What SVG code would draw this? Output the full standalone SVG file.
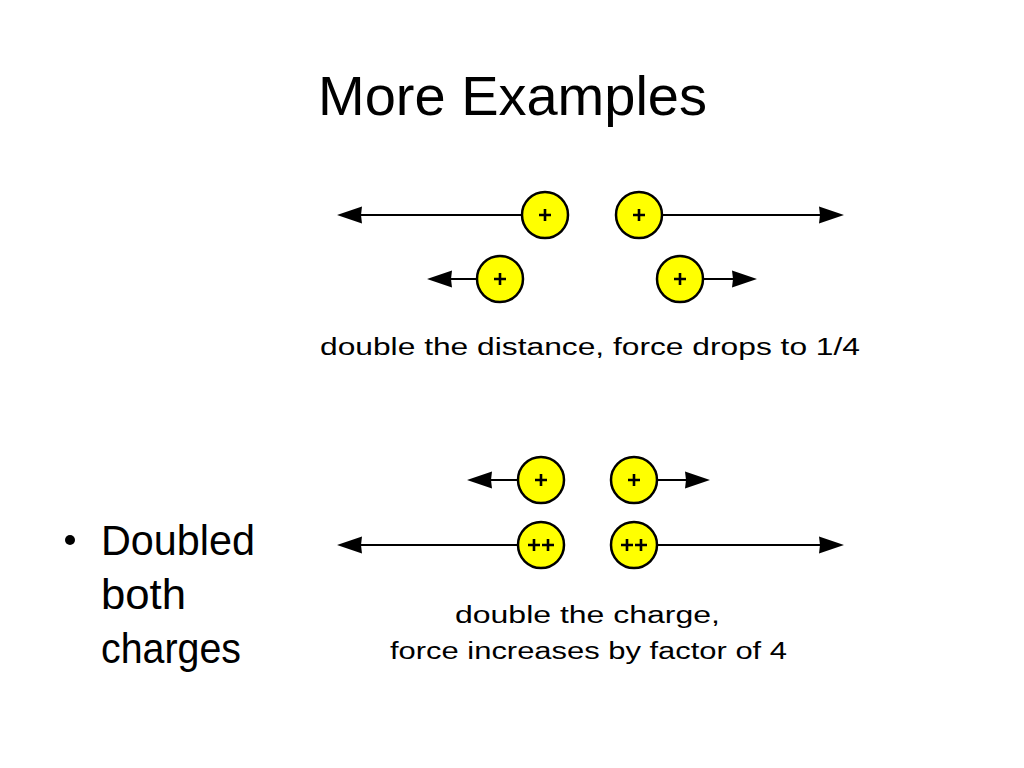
<svg xmlns="http://www.w3.org/2000/svg" width="1024" height="768" viewBox="0 0 1024 768" xmlns:xlink="http://www.w3.org/1999/xlink">
<style>
.title{font-family:"Liberation Sans",Arial,sans-serif;font-size:56px;fill:#000}
.bullet{font-family:"Liberation Sans",Arial,sans-serif;font-size:42px;fill:#000}
.cap{font-family:"Liberation Sans",Arial,sans-serif;font-size:23px;fill:#000}
.charge{fill:#ffff00;stroke:#000;stroke-width:2.5}
.sign{stroke:#000;stroke-width:2.6;fill:none}
.line{stroke:#000;stroke-width:2;fill:none}
</style>
<defs>
<path id="ahL" d="M0,0 L25,-8.5 L24,0 L25,8.5 Z" fill="#000"/>
<path id="ahR" d="M0,0 L-25,-8.5 L-24,0 L-25,8.5 Z" fill="#000"/>
<path id="plus" d="M-6,0 H6 M0,-6 V6" class="sign"/>
</defs>
<rect width="1024" height="768" fill="#fff"/>
<text class="title" x="318" y="115" textLength="389" lengthAdjust="spacingAndGlyphs">More Examples</text>

<g id="bullet">
<circle cx="70" cy="540" r="5" fill="#000"/>
<text class="bullet" x="101" y="555" textLength="154" lengthAdjust="spacingAndGlyphs">Doubled</text>
<text class="bullet" x="101" y="609" textLength="85" lengthAdjust="spacingAndGlyphs">both</text>
<text class="bullet" x="101" y="663" textLength="140" lengthAdjust="spacingAndGlyphs">charges</text>
</g>

<g id="connectors">
<line class="line" x1="345" y1="215" x2="523" y2="215"/>
<use xlink:href="#ahL" x="337" y="215"/>
<line class="line" x1="662" y1="215" x2="836" y2="215"/>
<use xlink:href="#ahR" x="844" y="215"/>
<line class="line" x1="435" y1="279" x2="477" y2="279"/>
<use xlink:href="#ahL" x="427" y="279"/>
<line class="line" x1="703" y1="279" x2="749" y2="279"/>
<use xlink:href="#ahR" x="757" y="279"/>
<line class="line" x1="475" y1="480" x2="518" y2="480"/>
<use xlink:href="#ahL" x="467" y="480"/>
<line class="line" x1="657" y1="480" x2="702" y2="480"/>
<use xlink:href="#ahR" x="710" y="480"/>
<line class="line" x1="345" y1="545" x2="518" y2="545"/>
<use xlink:href="#ahL" x="337" y="545"/>
<line class="line" x1="657" y1="545" x2="836" y2="545"/>
<use xlink:href="#ahR" x="844" y="545"/>
</g>

<g id="charge-a1"><circle class="charge" cx="545" cy="215" r="23"/><use xlink:href="#plus" x="545" y="215"/></g>
<g id="charge-a2"><circle class="charge" cx="639" cy="215" r="23"/><use xlink:href="#plus" x="639" y="215"/></g>
<g id="charge-b1"><circle class="charge" cx="500" cy="279" r="23"/><use xlink:href="#plus" x="500" y="279"/></g>
<g id="charge-b2"><circle class="charge" cx="680" cy="279" r="23"/><use xlink:href="#plus" x="680" y="279"/></g>
<text class="cap" x="320" y="355" textLength="540" lengthAdjust="spacingAndGlyphs">double the distance, force drops to 1/4</text>

<g id="charge-c1"><circle class="charge" cx="541" cy="480" r="23"/><use xlink:href="#plus" x="541" y="480"/></g>
<g id="charge-c2"><circle class="charge" cx="634" cy="480" r="23"/><use xlink:href="#plus" x="634" y="480"/></g>
<g id="charge-d1"><circle class="charge" cx="541" cy="545" r="23"/><use xlink:href="#plus" x="534" y="545"/><use xlink:href="#plus" x="548" y="545"/></g>
<g id="charge-d2"><circle class="charge" cx="634" cy="545" r="23"/><use xlink:href="#plus" x="627" y="545"/><use xlink:href="#plus" x="641" y="545"/></g>
<text class="cap" x="455" y="623" textLength="265" lengthAdjust="spacingAndGlyphs">double the charge,</text>
<text class="cap" x="390" y="659" textLength="397" lengthAdjust="spacingAndGlyphs">force increases by factor of 4</text>
</svg>
